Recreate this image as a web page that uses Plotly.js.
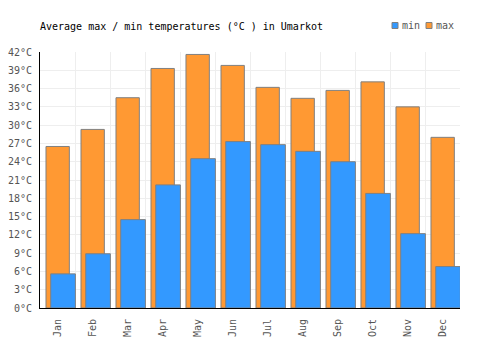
<!DOCTYPE html>
<html>
<head>
<meta charset="utf-8">
<script src="https://cdn.plot.ly/plotly-3.0.1.min.js"></script>
<style>html,body{margin:0;padding:0;background:#fff;}#chart{width:500px;height:350px;}</style>
</head>
<body>
<div id="chart"></div>
<script>
const months = ["Jan","Feb","Mar","Apr","May","Jun","Jul","Aug","Sep","Oct","Nov","Dec"];
const maxTemps = [26.5, 29.3, 34.5, 39.3, 41.6, 39.8, 36.2, 34.4, 35.7, 37.1, 33.0, 28.0];
const minTemps = [5.6, 8.9, 14.5, 20.2, 24.5, 27.3, 26.8, 25.7, 24.0, 18.8, 12.2, 6.8];
const yTicks = [0,3,6,9,12,15,18,21,24,27,30,33,36,39,42];
const seriesNames = ["min", "max"];
const seriesColors = ["#3399ff", "#ff9933"];

const xIdx = months.map((m, i) => i);
const fontFam = '"DejaVu Sans Mono", "Liberation Mono", monospace';

const traces = [
  {
    type: 'bar', name: 'max', x: xIdx, y: maxTemps,
    width: 0.667, offset: -0.329,
    marker: {color: seriesColors[1], line: {color: '#808080', width: 1}},
    hoverinfo: 'skip', showlegend: false
  },
  {
    type: 'bar', name: 'min', x: xIdx, y: minTemps,
    width: 0.705, offset: -0.194,
    marker: {color: seriesColors[0], line: {color: '#808080', width: 1}},
    hoverinfo: 'skip', showlegend: false
  }
];

// legend drawn as small squares + labels (pixel positions converted to paper coords)
const plotL = 40, plotW = 420, plotB = 308, plotH = 256;
const px = v => (v - plotL) / plotW;
const py = v => (plotB - v) / plotH;
const legendX = [392, 426];
const shapes = [];
const annotations = [];
seriesNames.forEach((n, i) => {
  shapes.push({
    type: 'rect', xref: 'paper', yref: 'paper',
    x0: px(legendX[i]), x1: px(legendX[i] + 6), y0: py(28.5), y1: py(22.5),
    fillcolor: seriesColors[i], line: {color: '#808080', width: 1}
  });
  annotations.push({
    xref: 'paper', yref: 'paper', x: px(legendX[i] + 8), y: py(25.5),
    xanchor: 'left', yanchor: 'middle', showarrow: false, text: n,
    font: {family: fontFam, size: 10, color: '#555'}
  });
});

const layout = {
  width: 500, height: 350,
  margin: {l: 40, r: 40, t: 52, b: 42, pad: 0},
  paper_bgcolor: '#fff', plot_bgcolor: '#fff',
  barmode: 'overlay',
  font: {family: fontFam, size: 10, color: '#555'},
  title: {
    text: 'Average max / min temperatures (°C ) in Umarkot',
    font: {family: fontFam, size: 10, color: '#000'},
    x: 40/500, xanchor: 'left', xref: 'container', y: 1 - 26/350, yanchor: 'middle', yref: 'container'
  },
  showlegend: false,
  shapes: shapes,
  annotations: annotations,
  xaxis: {
    range: [-0.5, 11.5], tickmode: 'array', tickvals: xIdx, ticktext: months,
    tickangle: -90, showgrid: false, zeroline: false,
    showline: true, linecolor: '#000', linewidth: 1,
    ticks: 'outside', ticklen: 6, tickcolor: 'rgba(0,0,0,0)',
    tickfont: {family: fontFam, size: 10, color: '#555'},
    minor: {tickmode: 'linear', tick0: -0.5, dtick: 1, showgrid: true, gridcolor: '#eeeeee', gridwidth: 1, ticks: ''},
    fixedrange: true
  },
  yaxis: {
    range: [0, 42], tickmode: 'array', tickvals: yTicks,
    ticktext: yTicks.map(v => v + '°C'),
    showgrid: true, gridcolor: '#eeeeee', gridwidth: 1, zeroline: false,
    showline: true, linecolor: '#000', linewidth: 1,
    ticks: 'outside', ticklen: 5, tickcolor: 'rgba(0,0,0,0)',
    tickfont: {family: fontFam, size: 10, color: '#555'},
    fixedrange: true
  }
};

Plotly.newPlot('chart', traces, layout, {displayModeBar: false, staticPlot: true});
</script>
</body>
</html>
